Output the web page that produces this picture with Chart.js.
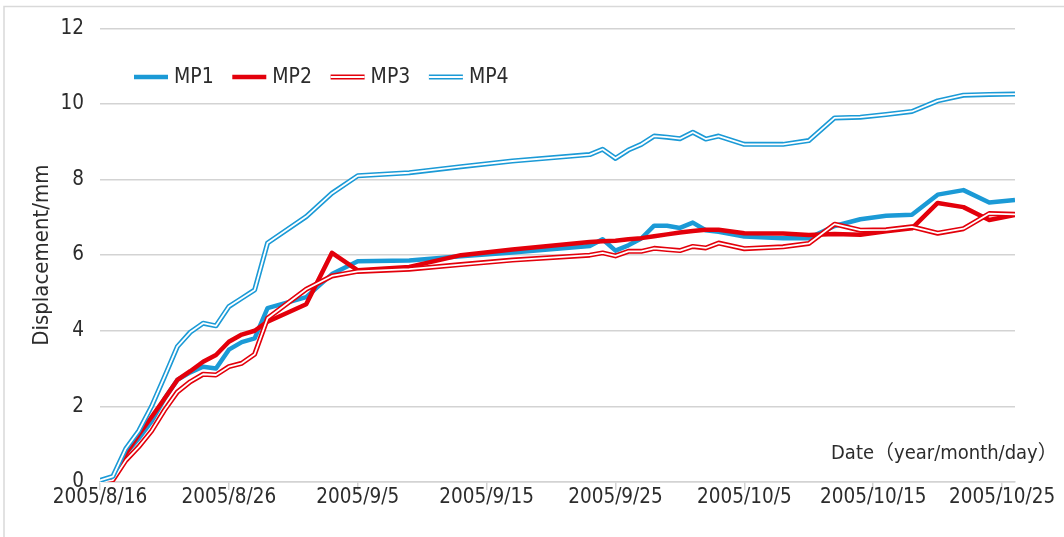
<!DOCTYPE html>
<html>
<head>
<meta charset="utf-8">
<script src="https://cdn.jsdelivr.net/npm/chart.js@4.4.1/dist/chart.umd.min.js"></script>
<style>
html,body{margin:0;padding:0;background:#fff;overflow:hidden}
#wrap{position:relative;width:1064px;height:537px}
</style>
</head>
<body>
<div id="wrap"><canvas id="c" width="1064" height="537"></canvas></div>
<script>
// ---- data ----
const dates = ['2005/8/16','2005/8/17','2005/8/18','2005/8/19','2005/8/20','2005/8/21','2005/8/22','2005/8/23','2005/8/24','2005/8/25',
  '2005/8/26','2005/8/27','2005/8/28','2005/8/29','2005/9/1','2005/9/3','2005/9/5','2005/9/9','2005/9/13','2005/9/17',
  '2005/9/23','2005/9/24','2005/9/25','2005/9/26','2005/9/27','2005/9/28','2005/9/29','2005/9/30','2005/10/1','2005/10/2',
  '2005/10/3','2005/10/5','2005/10/8','2005/10/10','2005/10/12','2005/10/14','2005/10/16','2005/10/18','2005/10/20','2005/10/22',
  '2005/10/24','2005/10/26'];
const mp1 = [0.03,0.10,0.75,1.15,1.60,2.20,2.70,2.90,3.05,3.00,
  3.50,3.70,3.80,4.60,4.89,5.50,5.84,5.86,5.97,6.07,
  6.24,6.42,6.12,6.26,6.44,6.78,6.78,6.72,6.86,6.66,
  6.62,6.49,6.45,6.45,6.77,6.95,7.04,7.07,7.60,7.72,
  7.39,7.46];
const mp2 = [0.03,0.09,0.75,1.25,1.72,2.20,2.70,2.93,3.18,3.36,
  3.71,3.90,4.00,4.24,4.70,6.06,5.60,5.69,6.00,6.15,
  6.35,6.37,6.38,6.42,6.45,6.50,6.55,6.60,6.64,6.67,
  6.67,6.58,6.57,6.53,6.56,6.54,6.63,6.71,7.38,7.27,
  6.93,7.06];
const mp3 = [0.00,0.05,0.57,0.93,1.35,1.90,2.38,2.65,2.85,2.83,
  3.05,3.14,3.38,4.33,5.10,5.45,5.57,5.63,5.75,5.87,
  6.00,6.06,5.98,6.10,6.10,6.18,6.15,6.12,6.23,6.19,
  6.32,6.17,6.22,6.31,6.82,6.66,6.67,6.75,6.58,6.70,
  7.10,7.08];
const mp4 = [0.04,0.15,0.88,1.35,2.00,2.78,3.58,3.96,4.20,4.13,
  4.64,4.86,5.08,6.32,7.02,7.64,8.10,8.18,8.34,8.49,
  8.66,8.80,8.56,8.78,8.93,9.15,9.12,9.08,9.25,9.07,
  9.15,8.93,8.93,9.03,9.63,9.65,9.72,9.80,10.08,10.23,
  10.25,10.26];
const seriesNames = ['MP1','MP2','MP3','MP4'];
const tickLabels = ['2005/8/16','2005/8/26','2005/9/5','2005/9/15','2005/9/25','2005/10/5','2005/10/15','2005/10/25'];
const yTickValues = [0,2,4,6,8,10,12];
const yAxisTitle = 'Displacement/mm';
const xAxisTitle = 'Date（year/month/day）';

// ---- helpers ----
const FONT = "'DejaVu Sans Condensed','DejaVu Sans','Noto Sans CJK SC',sans-serif";
const TEXT = '#2c2c2c';
const GRID = '#d3d3d3';
const BLUE = '#1b9ad6';
const RED = '#e3000b';
const DAY = 86400000;
function toTime(s){ const p = s.split('/').map(Number); return Date.UTC(p[0], p[1]-1, p[2]); }
const t0 = toTime(dates[0]);
function toDay(s){ return Math.round((toTime(s) - t0) / DAY); }
function pts(vals){ return dates.map((d,i) => ({x: toDay(d), y: vals[i]})); }
const lastDay = toDay(dates[dates.length-1]);

Chart.defaults.font.family = FONT;
Chart.defaults.color = TEXT;

const doubleLine = {
  id: 'doubleLine',
  afterDatasetDraw(chart, args){
    const ds = chart.data.datasets[args.index];
    if (!ds.double) return;
    const p = args.meta.data;
    const ctx = chart.ctx, a = chart.chartArea;
    ctx.save();
    ctx.beginPath(); ctx.rect(a.left, a.top - 10, a.right - a.left, a.bottom - a.top + 20); ctx.clip();
    ctx.beginPath();
    p.forEach((pt,i) => i ? ctx.lineTo(pt.x, pt.y) : ctx.moveTo(pt.x, pt.y));
    ctx.strokeStyle = '#ffffff'; ctx.lineWidth = ds.innerWidth; ctx.lineJoin = 'round'; ctx.lineCap = 'butt';
    ctx.stroke();
    ctx.restore();
  }
};

const decor = {
  id: 'decor',
  beforeDraw(chart){
    const ctx = chart.ctx;
    ctx.save();
    ctx.strokeStyle = '#d9d9d9'; ctx.lineWidth = 1.5;
    ctx.strokeRect(4, 6.5, 1200, 700);
    ctx.restore();
  },
  afterDraw(chart){
    const ctx = chart.ctx;
    ctx.save();
    ctx.font = '21px ' + FONT;
    ctx.textBaseline = 'middle';
    ctx.fillStyle = TEXT;
    chart.data.datasets.forEach((ds, i) => {
      const x0 = 134 + i * 98.3, y = 77;
      ctx.beginPath(); ctx.moveTo(x0, y); ctx.lineTo(x0 + 34, y);
      ctx.strokeStyle = ds.borderColor; ctx.lineWidth = ds.borderWidth; ctx.lineCap = 'butt'; ctx.stroke();
      if (ds.double){
        ctx.beginPath(); ctx.moveTo(x0, y); ctx.lineTo(x0 + 34, y);
        ctx.strokeStyle = '#fff'; ctx.lineWidth = ds.innerWidth; ctx.stroke();
      }
      ctx.textAlign = 'left';
      ctx.fillText(ds.label, x0 + 40, y + 1);
    });
    ctx.font = '20px ' + FONT;
    ctx.textAlign = 'left';
    ctx.fillText(xAxisTitle, 831, 454);
    ctx.restore();
  }
};

new Chart(document.getElementById('c'), {
  type: 'line',
  data: {
    datasets: [
      {label: seriesNames[0], data: pts(mp1), borderColor: BLUE, borderWidth: 4.5, order: 3},
      {label: seriesNames[1], data: pts(mp2), borderColor: RED, borderWidth: 4.5, order: 2},
      {label: seriesNames[2], data: pts(mp3), borderColor: RED, borderWidth: 5, double: true, innerWidth: 1.8, order: 1},
      {label: seriesNames[3], data: pts(mp4), borderColor: BLUE, borderWidth: 5, double: true, innerWidth: 1.8, order: 0}
    ]
  },
  options: {
    responsive: false,
    animation: false,
    devicePixelRatio: 1,
    layout: {padding: {left: 20, right: 49, top: 28, bottom: 25}},
    elements: {
      point: {radius: 0, hoverRadius: 0},
      line: {tension: 0, fill: false, borderJoinStyle: 'round', borderCapStyle: 'butt'}
    },
    plugins: {legend: {display: false}, tooltip: {enabled: false}},
    scales: {
      x: {
        type: 'linear', min: 0, max: lastDay,
        afterBuildTicks(s){ s.ticks = tickLabels.map(l => ({value: toDay(l)})); },
        afterFit(s){ s.height = 30; },
        ticks: {callback: (v, i) => tickLabels[i], autoSkip: false, maxRotation: 0, padding: -5,
                font: {size: 20.5}, color: TEXT},
        grid: {display: true, drawOnChartArea: false, drawTicks: true, tickLength: 8, color: GRID, lineWidth: 1.5},
        border: {display: true, color: GRID, width: 1.5}
      },
      y: {
        min: 0, max: 12,
        afterBuildTicks(s){ s.ticks = yTickValues.map(v => ({value: v})); },
        afterFit(s){ s.width = 80; },
        ticks: {padding: 16, font: {size: 20.5}, color: TEXT},
        grid: {color: GRID, lineWidth: 1.5, drawTicks: false},
        border: {display: false},
        title: {display: true, text: yAxisTitle, font: {size: 22}, color: TEXT, padding: {top: 9, bottom: 0}}
      }
    }
  },
  plugins: [doubleLine, decor]
});
</script>
</body>
</html>
